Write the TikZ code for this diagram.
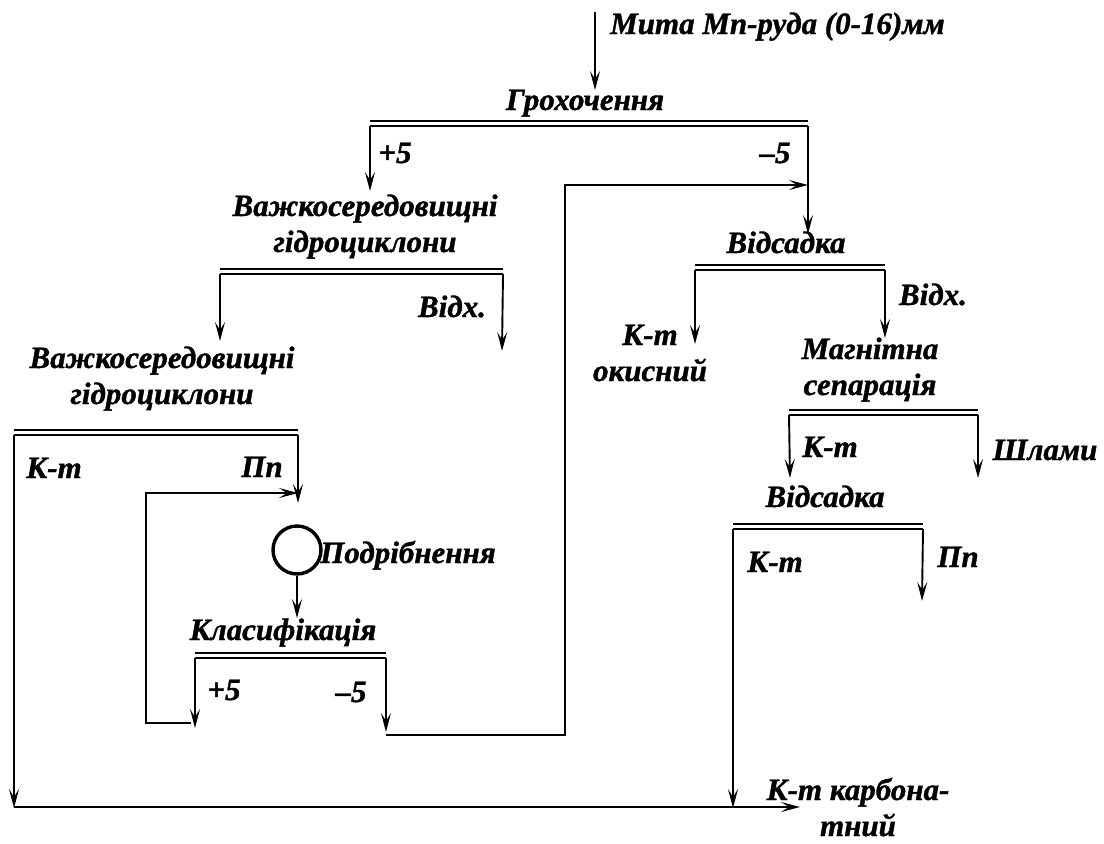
\documentclass[tikz,border=0pt]{standalone}
\usepackage{fontspec}
\setmainfont{Liberation Serif}[BoldItalicFeatures={FakeBold=1.2}]
\usetikzlibrary{arrows.meta}
\begin{document}
\begin{tikzpicture}[x=1pt,y=-1pt,
  lbl/.style={font=\fontsize{31}{36}\selectfont\bfseries\itshape, inner sep=0pt, align=center, anchor=base},
  flow/.style={line width=1.9pt, -{Stealth[length=19pt,width=10pt,inset=8pt]}},
  bar/.style={line width=2.6pt}]
\useasboundingbox (0,0) rectangle (1104,844);

% ---------- Grokhochennia ----------
\coordinate (feed) at (595,12);
\coordinate (gIn) at (595,90);
\node[lbl, anchor=base west] (t0) at (610,34) {Мита Mn-руда (0-16)мм};
\draw[flow] (feed) -- (gIn);
\node[lbl] (t1) at (585,110) {Грохочення};
\coordinate (b1L) at (370,121); \coordinate (b1R) at (808,121);
\coordinate (b1l) at (370,126); \coordinate (b1r) at (808,126);
\draw[bar] (b1L) -- (b1R); \draw[bar] (b1l) -- (b1r);
\coordinate (b1a) at (370,191);
\coordinate (b1b) at (808,234);
\coordinate (ret) at (808,185);
\draw[flow] (b1l) -- (b1a);
\draw[flow] (b1r) -- (b1b);
\node[lbl] (p1) at (395,163) {+5};
\node[lbl] (m1) at (775,163) {–5};

% ---------- HMC 1 ----------
\node[lbl] (t2) at (365,252) {Важкосередовищні\\гідроциклони};
\coordinate (b2L) at (220,269); \coordinate (b2R) at (503,269);
\coordinate (b2l) at (220,274); \coordinate (b2r) at (503,274);
\draw[bar] (b2L) -- (b2R); \draw[bar] (b2l) -- (b2r);
\coordinate (b2a) at (220,341);
\coordinate (b2b) at (502,351);
\draw[flow] (b2l) -- (b2a);
\draw[flow] (b2r) -- (b2b);
\node[lbl] (w1) at (452,317) {Відх.};

% ---------- HMC 2 ----------
\node[lbl] (t3) at (162,404) {Важкосередовищні\\гідроциклони};
\coordinate (b3L) at (14,430); \coordinate (b3R) at (298,430);
\coordinate (b3l) at (14,435); \coordinate (b3r) at (298,435);
\draw[bar] (b3L) -- (b3R); \draw[bar] (b3l) -- (b3r);
\coordinate (b3a) at (14,808);
\coordinate (b3b) at (298,503);
\coordinate (rin) at (298,493);
\draw[flow] (b3l) -- (b3a);
\draw[flow] (b3r) -- (b3b);
\node[lbl] (k1) at (54,478) {К-т};
\node[lbl] (pp1) at (262,477) {Пп};

% ---------- Grinding ----------
\node[circle, draw, line width=3.4pt, minimum size=48pt, inner sep=0pt] (mill) at (297,550) {};
\node[lbl, anchor=base west] (t4) at (320,563) {Подрібнення};
\coordinate (cIn) at (297,618);
\draw[flow] (mill.south) -- (cIn);

% ---------- Classification ----------
\node[lbl] (t5) at (283,640) {Класифікація};
\coordinate (b4L) at (195,653); \coordinate (b4R) at (386,653);
\coordinate (b4l) at (195,658); \coordinate (b4r) at (386,658);
\draw[bar] (b4L) -- (b4R); \draw[bar] (b4l) -- (b4r);
\coordinate (b4a) at (195,728);
\coordinate (b4b) at (386,732);
\draw[flow] (b4l) -- (b4a);
\draw[flow] (b4r) -- (b4b);
\node[lbl] (p2) at (224,700) {+5};
\node[lbl] (m2) at (351,702) {–5};
\coordinate (lp1) at (191,723);
\coordinate (lp2) at (146,723);
\coordinate (lp3) at (146,493);
\draw[flow] (lp1) -- (lp2) -- (lp3) -- (rin);
\coordinate (r1) at (386,735);
\coordinate (r2) at (565,735);
\coordinate (r3) at (565,185);
\draw[flow] (r1) -- (r2) -- (r3) -- (ret);

% ---------- Jigging 1 ----------
\node[lbl] (t6) at (786,253) {Відсадка};
\coordinate (b5L) at (695,265); \coordinate (b5R) at (885,265);
\coordinate (b5l) at (695,270); \coordinate (b5r) at (885,270);
\draw[bar] (b5L) -- (b5R); \draw[bar] (b5l) -- (b5r);
\coordinate (b5a) at (695,344);
\coordinate (b5b) at (885,338);
\draw[flow] (b5l) -- (b5a);
\draw[flow] (b5r) -- (b5b);
\node[lbl] (w2) at (933,305) {Відх.};
\node[lbl] (ko) at (650,381) {К-т\\окисний};

% ---------- Magnetic separation ----------
\node[lbl] (t7) at (870,395) {Магнітна\\сепарація};
\coordinate (b6L) at (789,410); \coordinate (b6R) at (978,410);
\coordinate (b6l) at (789,415); \coordinate (b6r) at (978,415);
\draw[bar] (b6L) -- (b6R); \draw[bar] (b6l) -- (b6r);
\coordinate (b6a) at (790,478);
\coordinate (b6b) at (978,478);
\draw[flow] (b6l) -- (b6a);
\draw[flow] (b6r) -- (b6b);
\node[lbl] (k2) at (830,457) {К-т};
\node[lbl] (sl) at (1045,460) {Шлами};

% ---------- Jigging 2 ----------
\node[lbl] (t8) at (825,507) {Відсадка};
\coordinate (b7L) at (733,524); \coordinate (b7R) at (923,524);
\coordinate (b7l) at (733,529); \coordinate (b7r) at (923,529);
\draw[bar] (b7L) -- (b7R); \draw[bar] (b7l) -- (b7r);
\coordinate (b7a) at (733,808);
\coordinate (b7b) at (922,601);
\draw[flow] (b7l) -- (b7a);
\draw[flow] (b7r) -- (b7b);
\node[lbl] (k3) at (775,572) {К-т};
\node[lbl] (pp2) at (958,567) {Пп};

% ---------- Carbonate concentrate ----------
\coordinate (f1) at (14,807);
\coordinate (f2) at (800,807);
\draw[flow] (f1) -- (f2);
\node[lbl] (kc) at (858,836) {К-т карбона-\\тний};
\end{tikzpicture}
\end{document}
